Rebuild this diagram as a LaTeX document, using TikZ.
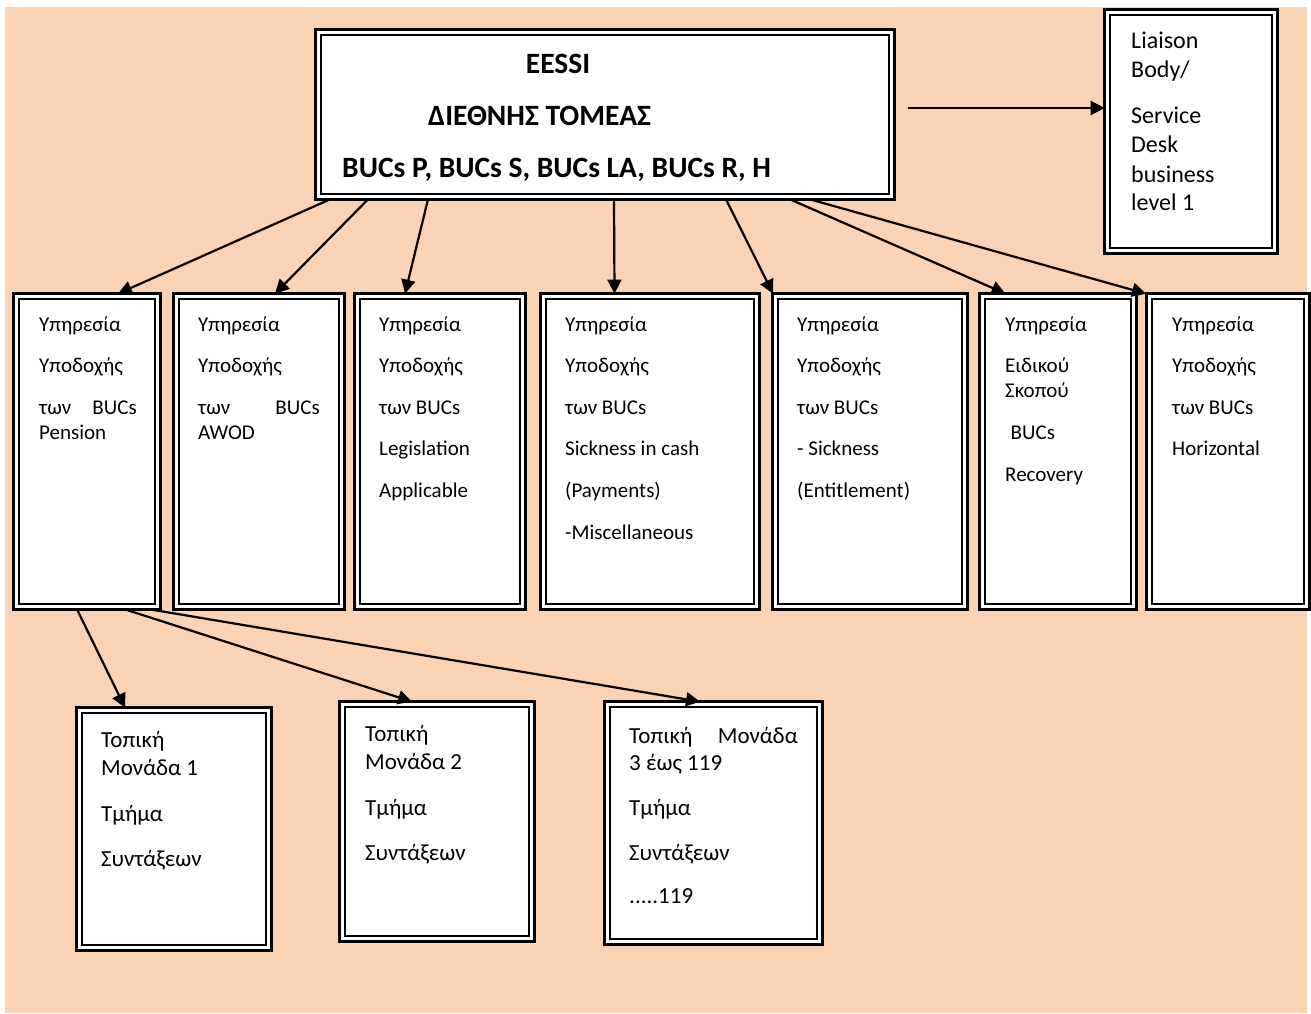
\documentclass[tikz,border=0pt]{standalone}
\usepackage{fontspec}
\setmainfont{Carlito}
\usetikzlibrary{arrows.meta}
\definecolor{peach}{HTML}{FAD3B4}
\tikzset{
  obox/.style={draw=black, line width=3.3pt, fill=white, inner sep=0pt, outer sep=0pt},
  ibox/.style={draw=black, line width=2pt},
  txt/.style={anchor=base west, inner sep=0pt, font=\fontsize{21}{25}\selectfont},
  ttxt/.style={anchor=base west, inner sep=0pt, font=\fontsize{23}{28}\selectfont},
  ltxt/.style={anchor=base west, inner sep=0pt, font=\fontsize{24}{29}\selectfont},
  btxt/.style={inner sep=0pt, font=\fontsize{29.5}{35}\selectfont\bfseries},
  conn/.style={draw=black, line width=2.2pt, -{Triangle[length=14pt,width=14pt]}},
}
\newcommand\dbox[5]{%
  \node[obox, minimum width={(#4-#2-3.3)*1pt}, minimum height={(#5-#3-3.3)*1pt}] (#1) at ({(#2+#4)/2},{(#3+#5)/2}) {};
  \draw[ibox] ([shift={(5,5)}]#1.north west) rectangle ([shift={(-5,-5)}]#1.south east);
}
\begin{document}
\begin{tikzpicture}[x=1pt,y=-1pt]
\useasboundingbox (0,0) rectangle (1311,1013);
\fill[white] (0,0) rectangle (1311,1013);
\fill[peach] (5,7) rectangle (1307,1013);

% boxes
\dbox{main}{314}{28}{896}{201}
\dbox{liaison}{1103}{8}{1279}{255}
\dbox{p1}{12}{292}{162}{611}
\dbox{p2}{172}{292}{346}{611}
\dbox{p3}{353}{292}{527}{611}
\dbox{p4}{539}{292}{761}{611}
\dbox{p5}{771}{292}{969}{611}
\dbox{p6}{978}{292}{1138}{611}
\dbox{p7}{1145}{292}{1311}{611}
\dbox{ua}{75}{706}{273}{952}
\dbox{ub}{338}{700}{536}{943}
\dbox{uc}{603}{700}{824}{946}

% main text
\node[btxt, anchor=base] (m1) at (558,73) {EESSI};
\node[btxt, anchor=base west] (m2) at (428,125) {ΔΙΕΘΝΗΣ ΤΟΜΕΑΣ};
\node[btxt, anchor=base west] (m3) at (342,177) {BUCs P, BUCs S, BUCs LA, BUCs R, H};

% liaison text
\node[ltxt] (l1) at (1131,48) {Liaison};
\node[ltxt] (l2) at (1131,77) {Body/};
\node[ltxt] (l3) at (1131,123) {Service};
\node[ltxt] (l4) at (1131,152) {Desk};
\node[ltxt] (l5) at (1131,182) {business};
\node[ltxt] (l6) at (1131,210) {level 1};

% box 1
\node[txt] (a1) at (39,331) {Υπηρεσία};
\node[txt] (a2) at (39,372.5) {Υποδοχής};
\node[txt] (a3) at (39,414) {των};
\node[txt, anchor=base east] (a4) at (137,414) {BUCs};
\node[txt] (a5) at (39,439.5) {Pension};
% box 2
\node[txt] (b1) at (198,331) {Υπηρεσία};
\node[txt] (b2) at (198,372.5) {Υποδοχής};
\node[txt] (b3) at (198,414) {των};
\node[txt, anchor=base east] (b4) at (320,414) {BUCs};
\node[txt] (b5) at (198,439.5) {AWOD};
% box 3
\node[txt] (c1) at (379,331) {Υπηρεσία};
\node[txt] (c2) at (379,372.5) {Υποδοχής};
\node[txt] (c3) at (379,414) {των BUCs};
\node[txt] (c4) at (379,455.5) {Legislation};
\node[txt] (c5) at (379,497) {Applicable};
% box 4
\node[txt] (d1) at (565,331) {Υπηρεσία};
\node[txt] (d2) at (565,372.5) {Υποδοχής};
\node[txt] (d3) at (565,414) {των BUCs};
\node[txt] (d4) at (565,455.5) {Sickness in cash};
\node[txt] (d5) at (565,497) {(Payments)};
\node[txt] (d6) at (565,539) {-Miscellaneous};
% box 5
\node[txt] (e1) at (797,331) {Υπηρεσία};
\node[txt] (e2) at (797,372.5) {Υποδοχής};
\node[txt] (e3) at (797,414) {των BUCs};
\node[txt] (e4) at (797,455.5) {- Sickness};
\node[txt] (e5) at (797,497) {(Entitlement)};
% box 6
\node[txt] (f1) at (1005,331) {Υπηρεσία};
\node[txt] (f2) at (1005,372) {Ειδικού};
\node[txt] (f3) at (1005,397.5) {Σκοπού};
\node[txt] (f4) at (1010.5,439.5) {BUCs};
\node[txt] (f5) at (1005,481) {Recovery};
% box 7
\node[txt] (g1) at (1172,331) {Υπηρεσία};
\node[txt] (g2) at (1172,372.5) {Υποδοχής};
\node[txt] (g3) at (1172,414) {των BUCs};
\node[txt] (g4) at (1172,455.5) {Horizontal};

% bottom boxes
\node[ttxt] (ua1) at (101,747) {Τοπική};
\node[ttxt] (ua2) at (101,775) {Μονάδα 1};
\node[ttxt] (ua3) at (101,821.5) {Τμήμα};
\node[ttxt] (ua4) at (101,866.5) {Συντάξεων};

\node[ttxt] (ub1) at (365,741) {Τοπική};
\node[ttxt] (ub2) at (365,769) {Μονάδα 2};
\node[ttxt] (ub3) at (365,815.5) {Τμήμα};
\node[ttxt] (ub4) at (365,860.5) {Συντάξεων};

\node[ttxt] (uc1) at (629,743) {Τοπική};
\node[ttxt, anchor=base east] (uc1b) at (798,743) {Μονάδα};
\node[ttxt] (uc2) at (629,770) {3 έως 119};
\node[ttxt] (uc3) at (629,815.5) {Τμήμα};
\node[ttxt] (uc4) at (629,860.5) {Συντάξεων};
\node[ttxt] (uc5) at (629,903.5) {.....119};

% connectors
\coordinate (ls) at (908,108);
\draw[conn] (ls) -- (liaison.west |- ls);
\draw[conn] ([xshift=-275pt]main.south) -- ([xshift=31pt]p1.north);
\draw[conn] ([xshift=-237pt]main.south) -- ([xshift=16pt]p2.north);
\draw[conn] ([xshift=-177pt]main.south) -- ([xshift=-35pt]p3.north);
\draw[conn] ([xshift=9pt]main.south) -- ([xshift=-35.5pt]p4.north);
\draw[conn] ([xshift=121pt]main.south) -- ([xshift=-97pt]p5.north);
\draw[conn] ([xshift=185pt]main.south) -- ([xshift=-52.5pt]p6.north);
\draw[conn] ([xshift=205pt]main.south) -- ([xshift=-82pt]p7.north);

\draw[conn] ([xshift=-10pt]p1.south) -- ([xshift=-49pt]ua.north);
\draw[conn] ([xshift=38pt]p1.south) -- ([xshift=-25pt]ub.north);
\draw[conn] ([xshift=63pt]p1.south) -- ([xshift=-13.5pt]uc.north);
\end{tikzpicture}
\end{document}
